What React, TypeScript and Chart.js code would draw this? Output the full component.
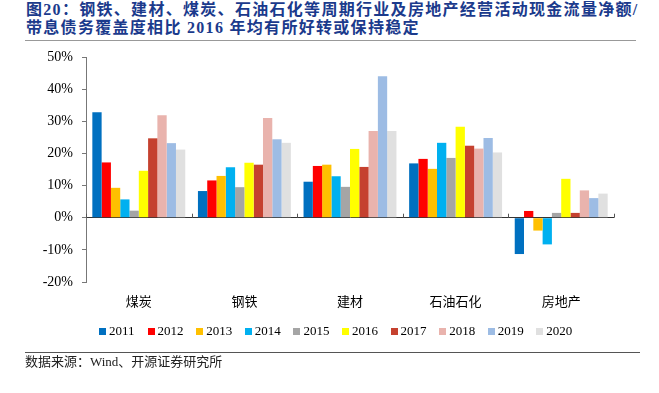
import React, { useEffect, useRef } from "react";
import { Chart, registerables } from "chart.js";

Chart.register(...registerables);

const categories = ["煤炭", "钢铁", "建材", "石油石化", "房地产"];
const years = ["2011", "2012", "2013", "2014", "2015", "2016", "2017", "2018", "2019", "2020"];
const colors = ["#0070C0", "#FF0000", "#FFC000", "#00B0F0", "#A5A5A5", "#FFFF00", "#C5412F", "#E9B3AD", "#9DBCE4", "#E0E0E0"];

const v2011 = [32.8, 8.3, 11.2, 16.9, -11.3];
const v2012 = [17.2, 11.6, 16.1, 18.3, 2.1];
const v2013 = [9.3, 13.0, 16.5, 15.2, -4.0];
const v2014 = [5.7, 15.7, 12.9, 23.3, -8.3];
const v2015 = [2.2, 9.5, 9.6, 18.6, 1.5];
const v2016 = [14.6, 17.1, 21.4, 28.3, 12.1];
const v2017 = [24.7, 16.5, 15.8, 22.4, 1.5];
const v2018 = [31.9, 31.0, 27.0, 21.5, 8.5];
const v2019 = [23.2, 24.4, 44.0, 24.8, 6.1];
const v2020 = [21.2, 23.3, 27.0, 20.3, 7.5];
const seriesValues = [v2011, v2012, v2013, v2014, v2015, v2016, v2017, v2018, v2019, v2020];

const yMin = -20;
const yMax = 50;
const yStep = 10;

const titleLine1 = "图20：钢铁、建材、煤炭、石油石化等周期行业及房地产经营活动现金流量净额/";
const titleLine2 = "带息债务覆盖度相比 2016 年均有所好转或保持稳定";
const sourceText = "数据来源：Wind、开源证券研究所";

const categoryTicks = {
  id: "categoryTicks",
  afterDatasetsDraw(chart: any) {
    const xs = chart.scales.x;
    const ys = chart.scales.y;
    const y0 = ys.getPixelForValue(0);
    const ctx = chart.ctx;
    ctx.save();
    ctx.strokeStyle = "#555";
    ctx.lineWidth = 1;
    for (let i = 0; i <= categories.length; i++) {
      const x = Math.round(xs.getPixelForValue(i - 0.5)) + 0.5;
      ctx.beginPath();
      ctx.moveTo(x, y0);
      ctx.lineTo(x, y0 - 4);
      ctx.stroke();
    }
    ctx.restore();
  },
};

export default function App() {
  const canvasRef = useRef<HTMLCanvasElement>(null);

  useEffect(() => {
    const canvas = canvasRef.current;
    if (!canvas) return;
    const chart = new Chart(canvas, {
      type: "bar",
      data: {
        labels: categories,
        datasets: years.map((y, i) => ({
          label: y,
          data: seriesValues[i],
          backgroundColor: colors[i],
          borderWidth: 0,
          categoryPercentage: 0.88,
          barPercentage: 1.0,
        })),
      },
      options: {
        responsive: false,
        animation: false,
        devicePixelRatio: 1,
        layout: { padding: { top: 57, left: 0, right: 45, bottom: 81 } },
        plugins: {
          legend: { display: false },
          title: { display: false },
          tooltip: { enabled: false },
        },
        scales: {
          x: {
            grid: { display: false, drawTicks: false },
            border: { display: false },
            ticks: {
              padding: 11,
              color: "#000",
              font: { family: "'Noto Sans CJK SC', serif", size: 13 },
            },
            afterFit(scale: any) {
              scale.height = 30;
            },
          },
          y: {
            min: yMin,
            max: yMax,
            border: { display: true, color: "#777", width: 1 },
            grid: {
              drawOnChartArea: true,
              drawTicks: true,
              tickLength: 4,
              color: (c: any) => (c.tick && c.tick.value === 0 ? "#333" : "rgba(0,0,0,0)"),
              tickColor: "#777",
              lineWidth: 1,
            },
            ticks: {
              stepSize: yStep,
              padding: 9,
              color: "#000",
              font: { family: "'Liberation Serif', serif", size: 14 },
              callback: (v: any) => `${v}%`,
            },
            afterFit(scale: any) {
              scale.width = 86;
            },
          },
        },
      },
      plugins: [categoryTicks],
    });
    return () => chart.destroy();
  }, []);

  const serifCJK = "'Liberation Serif', 'Noto Sans CJK SC', serif";

  return (
    <div
      style={{
        position: "fixed",
        left: 0,
        top: 0,
        width: 659,
        height: 393,
        background: "#fff",
        overflow: "hidden",
      }}
    >
      <div
        style={{
          position: "absolute",
          left: 26,
          top: 1,
          fontFamily: serifCJK,
          fontWeight: "bold",
          fontSize: 16,
          lineHeight: "18px",
          letterSpacing: "1.3px",
          color: "#1B3A8C",
          whiteSpace: "nowrap",
        }}
      >
        <div>{titleLine1}</div>
        <div>{titleLine2}</div>
      </div>
      <div style={{ position: "absolute", left: 25, top: 40, width: 611, height: 1, background: "#999" }} />
      <canvas
        ref={canvasRef}
        width={659}
        height={393}
        style={{ position: "absolute", left: 0, top: 0, width: 659, height: 393 }}
      />
      <div
        style={{
          position: "absolute",
          left: 99,
          top: 323,
          display: "flex",
          fontFamily: "'Liberation Serif', serif",
          fontSize: 13,
          color: "#000",
          whiteSpace: "nowrap",
        }}
      >
        {years.map((y, i) => (
          <div key={y} style={{ width: 48.6, display: "flex", alignItems: "center", height: 16 }}>
            <span style={{ display: "inline-block", width: 7, height: 7, background: colors[i], marginRight: 3 }} />
            <span>{y}</span>
          </div>
        ))}
      </div>
      <div style={{ position: "absolute", left: 25, top: 352, width: 615, height: 1, background: "#555" }} />
      <div
        style={{
          position: "absolute",
          left: 25,
          top: 354,
          fontFamily: serifCJK,
          fontSize: 13,
          lineHeight: "16px",
          color: "#222",
          whiteSpace: "nowrap",
        }}
      >
        {sourceText}
      </div>
    </div>
  );
}
